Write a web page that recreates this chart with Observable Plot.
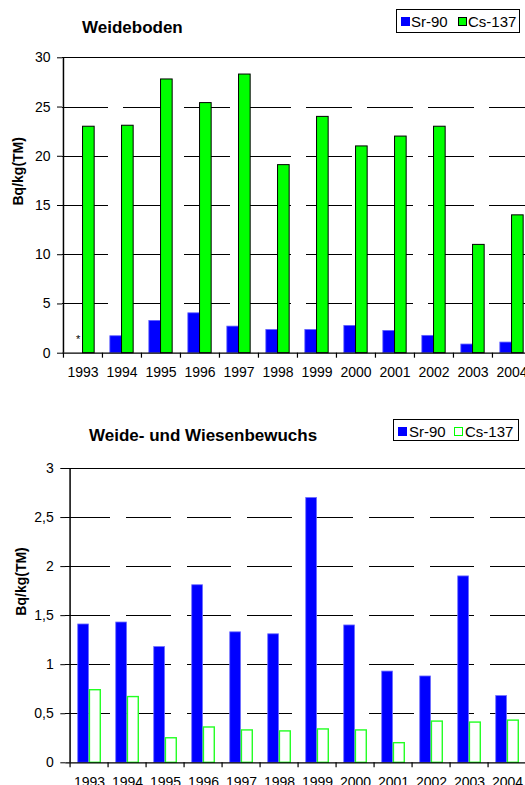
<!DOCTYPE html>
<html><head><meta charset="utf-8">
<script src="https://cdn.jsdelivr.net/npm/d3@7"></script>
<script src="https://cdn.jsdelivr.net/npm/@observablehq/plot@0.6"></script>
<style>
body{margin:0;width:525px;height:785px;overflow:hidden;position:relative;background:#fff;font-family:"Liberation Sans",Arial,sans-serif;color:#000;}
.abs{position:absolute;white-space:nowrap;}
.title{font-weight:bold;font-size:17px;line-height:17px;}
.legend{position:absolute;border:1px solid #000;box-sizing:border-box;background:#fff;}
.lt{position:absolute;font-size:15px;line-height:15px;white-space:nowrap;}
.sw{position:absolute;box-sizing:border-box;}
</style></head><body>
<div id="c1" class="abs" style="left:0;top:0"></div>
<div id="c2" class="abs" style="left:0;top:400px"></div>
<div class="abs title" style="left:82px;top:18.6px">Weideboden</div>
<div class="abs title" style="left:89px;top:427.3px">Weide- und Wiesenbewuchs</div>
<div class="legend" style="left:396px;top:9px;width:124px;height:24px"></div>
<div class="sw" style="left:401px;top:17px;width:9px;height:9px;background:#0000ff"></div>
<div class="lt" style="left:411px;top:14px">Sr-90</div>
<div class="sw" style="left:458px;top:17px;width:9px;height:9px;background:#00ff00;border:1px solid #000"></div>
<div class="lt" style="left:468px;top:14px">Cs-137</div>
<div class="legend" style="left:393px;top:419px;width:126px;height:22px"></div>
<div class="sw" style="left:398px;top:427px;width:9px;height:9px;background:#0000ff"></div>
<div class="lt" style="left:409px;top:423.5px">Sr-90</div>
<div class="sw" style="left:454px;top:427px;width:9px;height:9px;background:#fff;border:1px solid #00ff00"></div>
<div class="lt" style="left:465px;top:423.5px">Cs-137</div>
<script>
const years = ["1993","1994","1995","1996","1997","1998","1999","2000","2001","2002","2003","2004"];
const sr90Weideboden = [null, 1.72, 3.28, 4.05, 2.7, 2.36, 2.36, 2.77, 2.26, 1.76, 0.88, 1.08];
const cs137Weideboden = [23.0, 23.1, 27.8, 25.4, 28.3, 19.1, 24.0, 21.0, 22.0, 23.0, 11.0, 14.0];
const sr90Bewuchs = [1.41, 1.43, 1.18, 1.81, 1.33, 1.31, 2.70, 1.40, 0.93, 0.88, 1.90, 0.68];
const cs137Bewuchs = [0.74, 0.67, 0.25, 0.36, 0.33, 0.32, 0.34, 0.33, 0.20, 0.42, 0.41, 0.43];
const ticksWeideboden = [0, 5, 10, 15, 20, 25, 30];
const ticksBewuchs = [0, 0.5, 1, 1.5, 2, 2.5, 3];
const notesWeideboden = [{year: "1993", label: "*"}];
const yLabel = "Bq/kg(TM)";

function chart({sr, cs, ticks, xRange, marginLeft, marginTop, marginBottom, height, srStyle, csStyle, dash, fmt, notes}) {
  const srRows = years.map((y, i) => ({year: y, value: sr[i]})).filter(d => d.value != null);
  const csRows = years.map((y, i) => ({year: y, value: cs[i]})).filter(d => d.value != null);
  const bw = (xRange[1] - xRange[0]) / years.length;
  const barW = 11.7;
  const inner = bw / 2 - barW;
  const yMax = ticks[ticks.length - 1];
  const marks = [
    Plot.ruleY(ticks.slice(1, -1), {stroke: "#000", strokeWidth: 1, strokeDasharray: dash, shapeRendering: "crispEdges"}),
    Plot.ruleY([yMax], {stroke: "#000", strokeWidth: 1, shapeRendering: "crispEdges"}),
    Plot.barY(srRows, {x: "year", y: "value", insetLeft: inner, insetRight: bw / 2, ...srStyle}),
    Plot.barY(csRows, {x: "year", y: "value", insetLeft: bw / 2, insetRight: inner, ...csStyle}),
    Plot.ruleY([0], {stroke: "#000", strokeWidth: 1.3}),
    Plot.ruleX([years[0]], {x: d => d, dx: -bw / 2, y1: 0, y2: yMax, stroke: "#000", strokeWidth: 1.5}),
    Plot.axisY({ticks, tickSize: 5, tickPadding: 7, tickFormat: fmt, label: null}),
    Plot.axisX({tickSize: 0, tickPadding: 14, label: null}),
    Plot.axisX({tickSize: 5, tickFormat: () => "", dx: -bw / 2, label: null, strokeWidth: 1.2}),
    Plot.text([yLabel], {frameAnchor: "left", rotate: -90, dx: -44, fontWeight: "bold", fontSize: 14})
  ];
  if (notes) marks.push(Plot.text(notes, {x: "year", y: 0, text: "label", dx: -4.8, dy: -14, fontSize: 11}));
  return Plot.plot({
    width: 525, height, marginLeft, marginRight: 0, marginTop, marginBottom,
    x: {type: "band", domain: years, range: xRange, padding: 0},
    y: {domain: [0, yMax]},
    style: {fontFamily: "'Liberation Sans', Arial, sans-serif", fontSize: "14px", color: "#000", background: "transparent"},
    marks
  });
}

const fmtComma = d => String(d).replace(".", ",");

document.getElementById("c1").append(chart({
  sr: sr90Weideboden, cs: cs137Weideboden, ticks: ticksWeideboden,
  xRange: [62, 531], marginLeft: 62, marginTop: 57.3, marginBottom: 42.3, height: 395,
  srStyle: {fill: "#0000ff", stroke: "#6060ff", strokeWidth: 0.8},
  csStyle: {fill: "#00ff00", stroke: "#000", strokeWidth: 1},
  dash: "45.7,15.3", fmt: fmtComma, notes: notesWeideboden
}));
document.getElementById("c2").append(chart({
  sr: sr90Bewuchs, cs: cs137Bewuchs, ticks: ticksBewuchs,
  xRange: [65.3, 531.5], marginLeft: 65.3, marginTop: 68, marginBottom: 37.7, height: 400,
  srStyle: {fill: "#0000ff", stroke: "#7070ff", strokeWidth: 0.8},
  csStyle: {fill: "#fff", stroke: "#22ff22", strokeWidth: 1.4},
  dash: "44.7,16", fmt: fmtComma, notes: null
}));
</script>
</body></html>
